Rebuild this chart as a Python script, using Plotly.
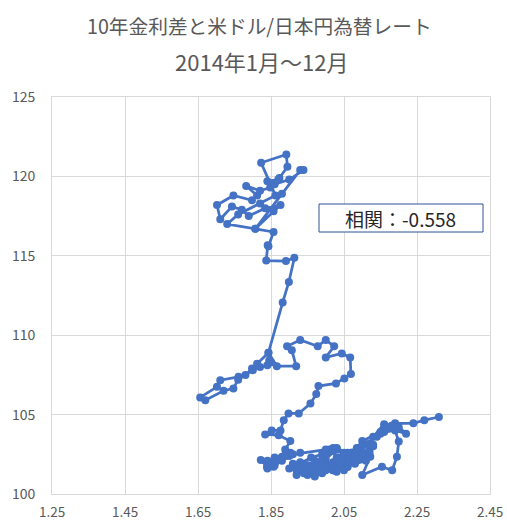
import plotly.graph_objects as go

# 10-year yield spread (US - JP, %) and USD/JPY, daily, Jan-Dec 2014
spread_jan = [2.31, 2.27, 2.24, 2.19, 2.22, 2.16, 2.15, 2.18, 2.20, 2.16, 2.13, 2.15, 2.10, 2.085, 2.06, 2.03, 2.00, 2.03, 2.05, 2.02, 1.98]
usdjpy_jan = [104.85, 104.65, 104.45, 104.45, 103.8, 104.23, 103.8, 104.3, 104.2, 104.4, 103.6, 103.9, 103.33, 102.9, 102.6, 102.87, 102.2, 102.8, 102.5, 102.9, 101.9]

spread_feb = [1.97, 1.99, 2.01, 2.04, 2.06, 2.03, 2.02, 2.05, 2.07, 2.08, 2.06, 2.04, 2.05, 2.03, 2.06, 2.07, 2.05, 2.04, 2.06]
usdjpy_feb = [101.1, 101.4, 101.6, 102.0, 102.3, 102.1, 101.8, 102.0, 102.4, 102.5, 102.2, 101.9, 102.0, 102.3, 102.3, 102.2, 102.1, 102.3, 101.8]

spread_mar = [2.02, 2.05, 2.08, 2.10, 2.13, 2.12, 2.09, 2.07, 2.04, 2.02, 2.01, 2.03, 2.05, 2.07, 2.10, 2.11, 2.09, 2.08, 2.12, 2.13, 2.10]
usdjpy_mar = [101.5, 101.9, 102.2, 102.6, 103.0, 103.2, 102.9, 102.6, 101.8, 101.5, 101.6, 101.4, 101.7, 102.2, 102.3, 102.3, 102.2, 102.4, 102.8, 103.1, 103.0]

spread_apr = [2.14, 2.16, 2.19, 2.20, 2.195, 2.182, 2.154, 2.10, 2.122, 2.08, 2.06, 2.05, 2.03, 2.02, 2.04, 2.06, 2.07, 2.08, 2.10, 2.12, 2.09]
usdjpy_apr = [103.6, 103.9, 104.0, 103.3, 102.35, 101.5, 101.72, 101.2, 102.35, 102.0, 101.7, 101.5, 101.6, 101.7, 102.2, 102.4, 102.6, 102.5, 102.4, 102.6, 102.2]

spread_may = [2.00, 1.98, 1.96, 1.95, 1.97, 1.99, 1.96, 1.94, 1.92, 1.90, 1.91, 1.93, 1.95, 1.96, 1.94, 1.92, 1.93, 1.95, 1.94, 1.92]
usdjpy_may = [101.9, 101.6, 101.4, 101.8, 102.1, 102.0, 101.6, 101.3, 101.5, 101.6, 101.9, 102.0, 101.8, 101.6, 101.4, 101.2, 101.5, 101.7, 101.8, 101.8]

spread_jun = [1.96, 1.99, 2.02, 2.05, 2.08, 2.07, 2.04, 2.02, 2.00, 2.03, 2.06, 2.09, 2.11, 2.08, 2.05, 2.02, 1.99, 2.00, 2.02, 2.03, 2.00]
usdjpy_jun = [102.3, 102.5, 102.7, 102.6, 102.4, 102.1, 101.9, 102.0, 101.9, 102.1, 102.0, 102.2, 102.1, 101.9, 101.8, 101.7, 101.6, 101.8, 101.7, 101.6, 101.5]

spread_jul = [2.02, 2.04, 2.01, 1.98, 1.97, 1.96, 1.98, 2.00, 1.99, 1.97, 1.95, 1.96, 1.97, 1.98, 1.96, 1.94, 1.95, 1.97, 1.99, 2.01, 2.03, 2.00]
usdjpy_jul = [101.7, 102.0, 101.8, 101.5, 101.3, 101.4, 101.6, 101.7, 101.3, 101.4, 101.2, 101.3, 101.4, 101.6, 101.5, 101.4, 101.8, 102.0, 102.2, 102.8, 102.9, 102.8]

spread_aug = [1.93, 1.91, 1.90, 1.88, 1.86, 1.84, 1.85, 1.87, 1.89, 1.86, 1.84, 1.822, 1.839, 1.857, 1.88, 1.903, 1.89, 1.889, 1.903, 1.871, 1.834]
usdjpy_aug = [102.6, 102.5, 102.4, 102.1, 101.8, 101.6, 101.9, 102.2, 102.4, 102.3, 102.1, 102.14, 101.72, 101.72, 102.35, 102.6, 102.5, 102.8, 103.33, 103.7, 103.75]

spread_sep = [1.852, 1.876, 1.885, 1.898, 1.926, 1.958, 1.974, 1.98, 2.028, 2.051, 2.069, 2.067, 2.044, 2.0, 2.023, 2.0, 1.978, 1.930, 1.894, 1.907, 1.919]
usdjpy_sep = [104.0, 104.0, 104.65, 105.07, 105.07, 105.7, 106.29, 106.8, 106.96, 107.27, 107.55, 108.6, 108.85, 108.6, 109.3, 109.7, 109.3, 109.7, 109.3, 109.05, 108.05]

spread_oct = [1.866, 1.843, 1.812, 1.798, 1.78, 1.761, 1.711, 1.702, 1.656, 1.670, 1.72, 1.747, 1.76, 1.80, 1.82, 1.84, 1.85, 1.845, 1.843]
usdjpy_oct = [108.05, 108.9, 108.2, 107.9, 107.5, 107.38, 107.17, 106.75, 106.08, 105.91, 106.5, 106.65, 107.2, 107.8, 108.0, 108.1, 108.3, 108.4, 108.9]

spread_nov = [1.882, 1.899, 1.914, 1.891, 1.837, 1.841, 1.843, 1.857, 1.807, 1.857, 1.876, 1.834, 1.789, 1.770, 1.743, 1.711, 1.702, 1.747, 1.798, 1.812]
usdjpy_nov = [112.06, 113.35, 114.88, 114.67, 114.7, 115.66, 115.6, 116.5, 116.7, 117.8, 118.2, 118.0, 117.5, 117.9, 118.1, 117.3, 118.2, 118.8, 118.5, 118.8]

spread_dec = [1.782, 1.820, 1.848, 1.873, 1.895, 1.892, 1.823, 1.862, 1.820, 1.76, 1.73, 1.807, 1.880, 1.930, 1.939, 1.90, 1.86, 1.84, 1.87]
usdjpy_dec = [119.4, 119.1, 119.3, 119.9, 120.6, 121.38, 120.86, 118.8, 118.3, 117.6, 117.0, 116.7, 118.9, 120.4, 120.4, 119.8, 119.5, 119.7, 119.8]

spread = (spread_jan + spread_feb + spread_mar + spread_apr + spread_may + spread_jun
          + spread_jul + spread_aug + spread_sep + spread_oct + spread_nov + spread_dec)
usdjpy = (usdjpy_jan + usdjpy_feb + usdjpy_mar + usdjpy_apr + usdjpy_may + usdjpy_jun
          + usdjpy_jul + usdjpy_aug + usdjpy_sep + usdjpy_oct + usdjpy_nov + usdjpy_dec)

x_ticks = [1.25, 1.45, 1.65, 1.85, 2.05, 2.25, 2.45]
y_ticks = [100, 105, 110, 115, 120, 125]
title_line1 = "10年金利差と米ドル/日本円為替レート"
title_line2 = "2014年1月～12月"
corr_label = "相関：-0.558"

W, H = 507, 521
ML, MR, MT, MB = 52, 17, 97, 27
PW, PH = W - ML - MR, H - MT - MB


def px_x(p):
    return (p - ML) / PW


def px_y(p):
    return (H - MB - p) / PH


BLUE = "#4472C4"
GRID = "#D9D9D9"
TEXT = "#595959"
JP_FONT = "Noto Sans CJK JP"

fig = go.Figure()
fig.add_trace(go.Scatter(
    x=spread, y=usdjpy, mode="lines+markers",
    line=dict(color=BLUE, width=2.75),
    marker=dict(color=BLUE, size=8),
    showlegend=False, hoverinfo="x+y", cliponaxis=False,
))

fig.update_layout(
    width=W, height=H,
    margin=dict(l=ML, r=MR, t=MT, b=MB, pad=0, autoexpand=False),
    paper_bgcolor="white", plot_bgcolor="white",
    font=dict(family=JP_FONT, color=TEXT),
    xaxis=dict(
        range=[x_ticks[0], x_ticks[-1]], tickvals=x_ticks,
        ticktext=[f"{v:.2f}" for v in x_ticks],
        showgrid=True, gridcolor=GRID, gridwidth=1,
        showline=True, linecolor=GRID, linewidth=1, mirror=True,
        zeroline=False, ticks="outside", ticklen=6, tickcolor="rgba(0,0,0,0)",
        tickfont=dict(size=13.5, color=TEXT, family=JP_FONT),
        automargin=False, fixedrange=True,
    ),
    yaxis=dict(
        range=[y_ticks[0], y_ticks[-1]], tickvals=y_ticks,
        showgrid=True, gridcolor=GRID, gridwidth=1,
        showline=True, linecolor=GRID, linewidth=1, mirror=True,
        zeroline=False, ticks="outside", ticklen=13, tickcolor="rgba(0,0,0,0)",
        tickfont=dict(size=14, color=TEXT, family=JP_FONT),
        automargin=False, fixedrange=True,
    ),
)

# two-line title
fig.add_annotation(text=title_line1, xref="paper", yref="paper",
                   x=px_x(259), y=px_y(25), xanchor="center", yanchor="middle",
                   showarrow=False, font=dict(size=19.7, color=TEXT, family=JP_FONT))
fig.add_annotation(text=title_line2, xref="paper", yref="paper",
                   x=px_x(261), y=px_y(61), xanchor="center", yanchor="middle",
                   showarrow=False, font=dict(size=22, color=TEXT, family=JP_FONT))

# correlation box
fig.add_shape(type="rect", xref="paper", yref="paper",
              x0=px_x(319), x1=px_x(483), y0=px_y(232), y1=px_y(204),
              line=dict(color="#2F5597", width=1), fillcolor="white", layer="above")
fig.add_annotation(text=corr_label, xref="paper", yref="paper",
                   x=px_x(400), y=px_y(218), xanchor="center", yanchor="middle",
                   showarrow=False, font=dict(size=19, color="#262626", family=JP_FONT))

fig.write_html("out.html")
